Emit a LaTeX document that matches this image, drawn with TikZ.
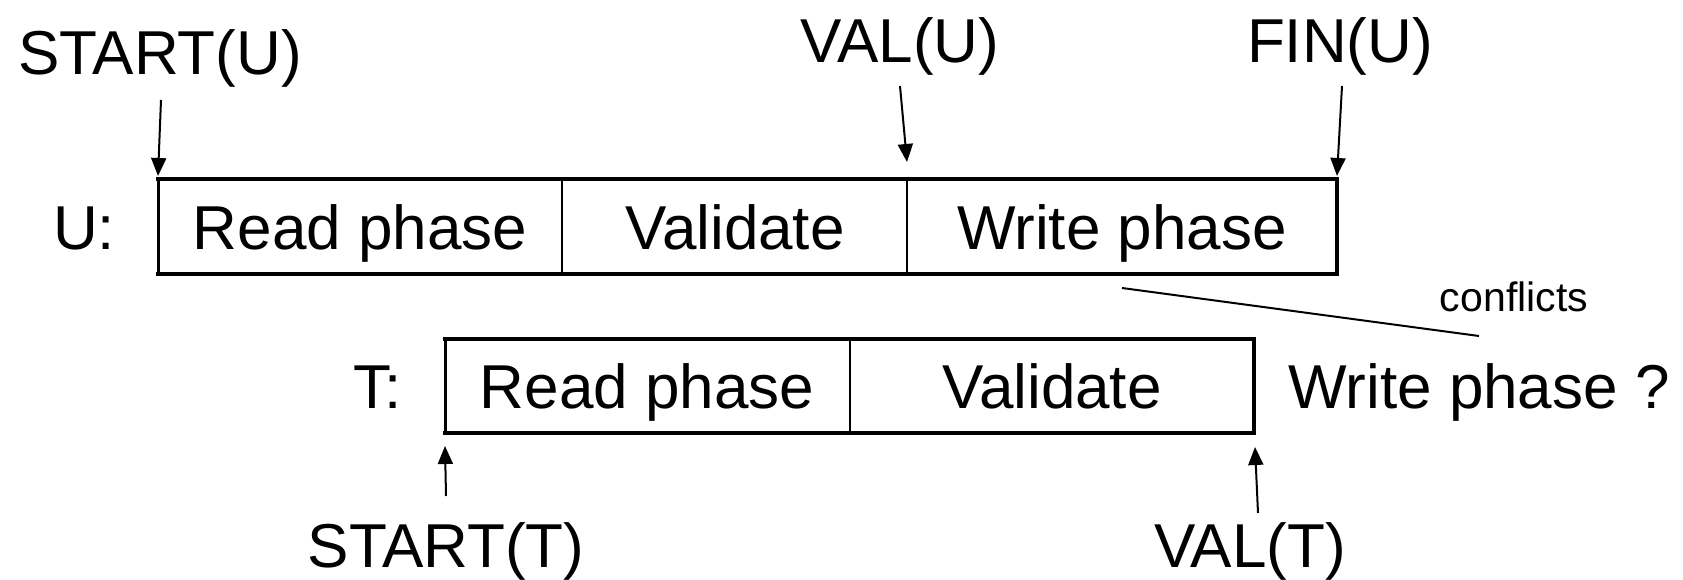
\documentclass[tikz,border=0pt]{standalone}
\usepackage{fontspec}
\setmainfont{Liberation Sans}
\usetikzlibrary{arrows.meta}
\tikzset{
  big/.style={font=\fontsize{62}{70}\selectfont, inner sep=0pt, anchor=base},
  small/.style={font=\fontsize{41}{46}\selectfont, inner sep=0pt, anchor=base},
  thickedge/.style={line width=4.8pt, line join=miter, line cap=rect},
  leftedge/.style={line width=3pt},
  thinedge/.style={line width=2.2pt},
  pointer/.style={line width=2pt, -{Triangle[length=18pt,width=15pt]}},
}
\begin{document}
\begin{tikzpicture}[x=1pt,y=-1pt]
\useasboundingbox (0,0) rectangle (1683,580);
% ---- U box
\coordinate (U1) at (158,179);
\coordinate (U2) at (1337,179);
\coordinate (U3) at (1337,274);
\coordinate (U4) at (158,274);
\coordinate (Ua) at (562,179);
\coordinate (Ub) at (562,274);
\coordinate (Uc) at (907,179);
\coordinate (Ud) at (907,274);
\draw[thickedge] (U1) -- (U2) -- (U3) -- (U4);
\draw[leftedge] (U4) -- (U1);
\draw[thinedge] (Ua) -- (Ub);
\draw[thinedge] (Uc) -- (Ud);
\node[big] (ulab) at (84,249) {U:};
\node[big] (ur) at (360,249) {Read phase};
\node[big] (uv) at (735,249) {Validate};
\node[big] (uw) at (1122,249) {Write phase};
% ---- T box
\coordinate (T1) at (445,339);
\coordinate (T2) at (1254,339);
\coordinate (T3) at (1254,433);
\coordinate (T4) at (445,433);
\coordinate (Ta) at (850,339);
\coordinate (Tb) at (850,433);
\draw[thickedge] (T1) -- (T2) -- (T3) -- (T4);
\draw[leftedge] (T4) -- (T1);
\draw[thinedge] (Ta) -- (Tb);
\node[big] (tlab) at (378,408) {T:};
\node[big] (tr) at (647,408) {Read phase};
\node[big] (tv) at (1052,408) {Validate};
\node[big] (tw) at (1479,408) {Write phase ?};
% ---- time labels
\node[big] (startu) at (160,75) {START(U)};
\node[big] (valu) at (900,63) {VAL(U)};
\node[big] (finu) at (1340,63) {FIN(U)};
\node[big] (startt) at (446,567) {START(T)};
\node[big] (valt) at (1250,567) {VAL(T)};
% ---- pointers
\coordinate (pSU) at (161,100);
\coordinate (pVU) at (900,86);
\coordinate (pFU) at (1342,86);
\coordinate (pST) at (446,496);
\coordinate (pVT) at (1258,513);
\coordinate (tipSU) at (158,176);
\coordinate (tipVU) at (907,162);
\coordinate (tipFU) at (1337,176);
\coordinate (tipST) at (445,446);
\coordinate (tipVT) at (1255,447);
\draw[pointer] (pSU) -- (tipSU);
\draw[pointer] (pVU) -- (tipVU);
\draw[pointer] (pFU) -- (tipFU);
\draw[pointer] (pST) -- (tipST);
\draw[pointer] (pVT) -- (tipVT);
% ---- conflicts
\coordinate (c1) at (1122,288);
\coordinate (c2) at (1479,336);
\draw[line width=2pt] (c1) -- (c2);
\node[small] (conf) at (1514,311) {conflicts};
\end{tikzpicture}
\end{document}
